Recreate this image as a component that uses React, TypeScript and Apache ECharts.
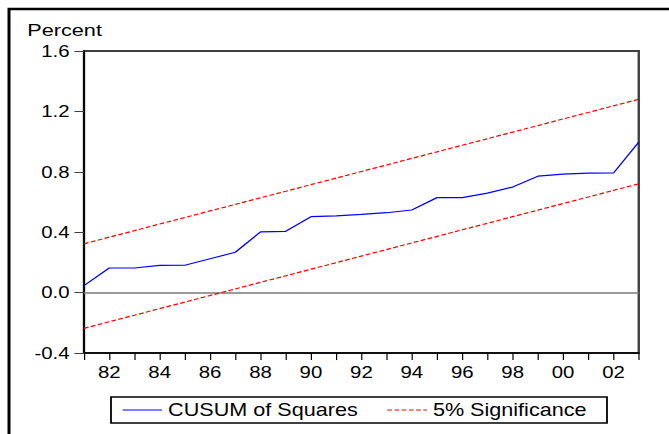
import React, { useEffect, useRef } from "react";
import * as echarts from "echarts";

const years = [1981, 1982, 1983, 1984, 1985, 1986, 1987, 1988, 1989, 1990, 1991, 1992, 1993, 1994, 1995, 1996, 1997, 1998, 1999, 2000, 2001, 2002, 2003];
const cusum = [0.046, 0.163, 0.163, 0.18, 0.181, 0.224, 0.267, 0.402, 0.406, 0.503, 0.508, 0.518, 0.529, 0.547, 0.629, 0.629, 0.659, 0.699, 0.771, 0.785, 0.791, 0.792, 0.996];
const upper = [0.323, 0.367, 0.41, 0.454, 0.497, 0.541, 0.584, 0.628, 0.671, 0.715, 0.758, 0.802, 0.845, 0.889, 0.932, 0.976, 1.019, 1.063, 1.106, 1.15, 1.193, 1.237, 1.28];
const lower = [-0.237, -0.193, -0.15, -0.106, -0.063, -0.019, 0.024, 0.068, 0.111, 0.155, 0.198, 0.242, 0.285, 0.329, 0.372, 0.416, 0.459, 0.503, 0.546, 0.59, 0.633, 0.677, 0.72];
const seriesNames = ["CUSUM of Squares", "5% Significance"];
const yTicks = { min: -0.4, max: 1.6, interval: 0.4 };

const SX = 1.2;
const W = 669 / SX;
const H = 434;
const FONT = "'Liberation Sans', Arial, sans-serif";

export default function App() {
  const ref = useRef<HTMLDivElement>(null);
  useEffect(() => {
    if (!ref.current) return;
    const chart = echarts.init(ref.current, null, { renderer: "svg", width: W, height: H });
    const pair = (arr: number[]) => years.map((y, i) => [y, arr[i]]);
    chart.setOption({
      animation: false,
      backgroundColor: "#ffffff",
      textStyle: { fontFamily: FONT },
      grid: {
        left: 70,
        top: 51,
        right: W - 532.3,
        bottom: 81,
        show: true,
        borderColor: "#404040",
        borderWidth: 2,
        containLabel: false,
      },
      graphic: [
        {
          type: "rect",
          shape: { x: 7.5, y: 9, width: 700, height: 600 },
          style: { fill: "none", stroke: "#000", lineWidth: 2.5 },
          silent: true,
        },
        {
          type: "text",
          x: 22.7,
          y: 23,
          scaleX: 1.13,
          style: { text: "Percent", fontSize: 16, fontFamily: FONT, fill: "#000", verticalAlign: "top", align: "left" },
          silent: true,
        },
      ],
      legend: {
        data: seriesNames,
        left: 92.5,
        top: 397,
        orient: "horizontal",
        itemWidth: 33,
        itemHeight: 14,
        itemGap: 24,
        padding: [4, 17, 4, 9],
        borderColor: "#000",
        borderWidth: 1.5,
        borderRadius: 0,
        itemStyle: { color: "transparent", borderWidth: 0, opacity: 0 },
        lineStyle: { width: 1.2 },
        textStyle: { fontSize: 18, color: "#000", fontFamily: FONT, lineHeight: 18 },
      },
      xAxis: {
        type: "value",
        min: 1981,
        max: 2003,
        interval: 1,
        axisLine: { show: true, onZero: false, lineStyle: { color: "#000", width: 1.5 } },
        axisTick: { show: true, inside: false, length: 7, lineStyle: { color: "#000", width: 1 } },
        splitLine: { show: false },
        axisLabel: {
          margin: 11,
          fontSize: 17,
          color: "#000",
          fontFamily: FONT,
          formatter: (v: number) => (v % 2 === 0 ? String(v % 100).padStart(2, "0") : ""),
        },
      },
      yAxis: {
        type: "value",
        min: yTicks.min,
        max: yTicks.max,
        interval: yTicks.interval,
        axisLine: { show: true, onZero: false, lineStyle: { color: "#000", width: 1.5 } },
        axisTick: { show: true, inside: false, length: 8, lineStyle: { color: "#404040", width: 1 } },
        splitLine: { show: false },
        axisLabel: {
          margin: 12,
          fontSize: 17,
          color: "#000",
          fontFamily: FONT,
          formatter: (v: number) => v.toFixed(1),
        },
      },
      series: [
        {
          name: seriesNames[0],
          type: "line",
          data: pair(cusum),
          symbol: "none",
          lineStyle: { color: "#0000ff", width: 1.2 },
          itemStyle: { color: "#0000ff" },
          z: 5,
          markLine: {
            silent: true,
            symbol: "none",
            label: { show: false },
            lineStyle: { color: "#7a7a7a", width: 1.5, type: "solid" },
            data: [{ yAxis: 0 }],
            z: 1,
          },
        },
        {
          name: seriesNames[1],
          type: "line",
          data: pair(upper),
          symbol: "none",
          lineStyle: { color: "#ff0000", width: 1.2, type: [4, 2] },
          itemStyle: { color: "#ff0000" },
        },
        {
          name: seriesNames[1],
          type: "line",
          data: pair(lower),
          symbol: "none",
          lineStyle: { color: "#ff0000", width: 1.2, type: [4, 2] },
          itemStyle: { color: "#ff0000" },
        },
      ],
    });
    return () => chart.dispose();
  }, []);
  return (
    <div style={{ position: "absolute", left: 0, top: 0, width: 669, height: 434, overflow: "hidden", background: "#fff" }}>
      <div ref={ref} style={{ width: W, height: H, transform: `scaleX(${SX})`, transformOrigin: "0 0" }} />
    </div>
  );
}
